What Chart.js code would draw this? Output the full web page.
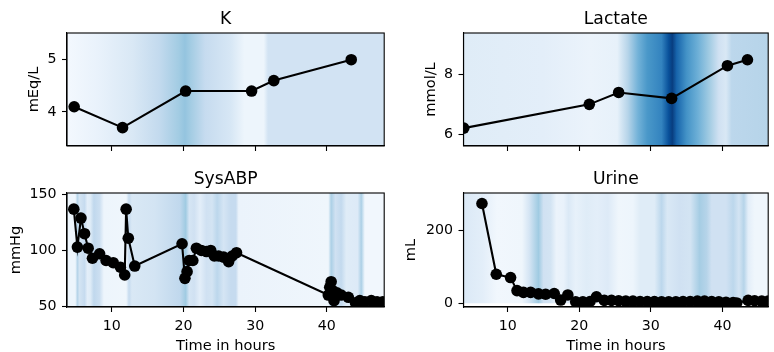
<!DOCTYPE html>
<html>
<head>
<meta charset="utf-8">
<script src="https://cdn.jsdelivr.net/npm/chart.js@4.4.1/dist/chart.umd.min.js"></script>
<style>
  html, body { margin: 0; padding: 0; background: #fff; }
  #fig { position: relative; width: 774px; height: 352px; }
  canvas { position: absolute; }
</style>
</head>
<body>
<div id="fig">
  <canvas id="cK" width="390" height="160" style="left:0;top:0"></canvas>
  <canvas id="cLac" width="384" height="160" style="left:390px;top:0"></canvas>
  <canvas id="cSys" width="390" height="192" style="left:0;top:160px"></canvas>
  <canvas id="cUrine" width="384" height="192" style="left:390px;top:160px"></canvas>
</div>
<script>
// measurements (time in hours)
const kTimes = [4.75, 11.5, 20.3, 29.5, 32.6, 43.4];
const kValues = [4.1, 3.7, 4.4, 4.4, 4.6, 5.0];

const lacTimes = [3.85, 21.4, 25.5, 32.9, 40.7, 43.5];
const lacValues = [6.2, 7.0, 7.4, 7.2, 8.3, 8.5];

const sysTimes = [4.7, 5.2, 5.7, 6.2, 6.7, 7.3, 8.3, 9.2, 10.2, 11.2, 11.8, 12.0, 12.3, 13.2,
  19.8, 20.2, 20.5, 20.8, 21.3, 21.8, 22.5, 23.2, 23.8, 24.3, 24.9, 25.6, 26.3, 26.8, 27.4,
  40.2, 40.4, 40.6, 40.8, 41.0, 41.4, 42.0, 43.0, 44.0, 44.6, 45.3, 46.2, 47.0, 47.8];
const sysValues = [137, 103, 129, 115, 102, 93, 97, 91, 89, 85, 78, 137, 111, 86,
  106, 75, 81, 91, 91, 102, 100, 99, 100, 95, 95, 94, 90, 95, 98,
  60, 67, 72, 64, 55, 62, 60, 58, 53, 55, 54, 55, 54, 54];

const urineTimes = [6.4, 8.4, 10.4, 11.3, 12.2, 13.2, 14.3, 15.3, 16.5, 17.4, 18.4, 19.5, 20.5,
  21.5, 22.4, 23.5, 24.5, 25.5, 26.5, 27.5, 28.5, 29.5, 30.5, 31.5, 32.5, 33.5, 34.5, 35.5,
  36.5, 37.5, 38.5, 39.5, 40.5, 41.5, 42.0, 43.6, 44.5, 45.5, 46.4];
const urineValues = [275, 80, 71, 35, 30, 30, 26, 25, 27, 9, 23, 4, 4,
  5, 18, 8, 8, 7, 6, 6, 5, 5, 5, 4, 4, 4, 5, 5,
  6, 6, 5, 4, 3, 2, 1, 8, 7, 6, 6];

// attention weights behind each panel (time, weight 0..1)
const kHeatTimes = [3.75, 8, 12.9, 16.6, 19.3, 20.2, 21.0, 23, 26.6, 28.5, 31.2, 31.8, 48];
const kHeatWeights = [0.02, 0.07, 0.15, 0.26, 0.36, 0.4, 0.36, 0.25, 0.16, 0.05, 0.05, 0.19, 0.19];

const lacHeatTimes = [3.82, 15, 21.5, 25.3, 26.8, 28.2, 29.5, 31.5, 32.5, 33.0, 33.6, 35.0, 36.5, 38.2, 39.5, 40.5, 41.3, 46.4];
const lacHeatWeights = [0.12, 0.1, 0.06, 0.08, 0.3, 0.48, 0.6, 0.68, 0.88, 0.95, 0.8, 0.62, 0.5, 0.36, 0.2, 0.15, 0.28, 0.3];

const sysHeatTimes = [3.75, 4.9, 5.2, 5.5, 6.2, 6.6, 7.0, 7.5, 8.3, 8.9, 12.0, 12.4, 12.8, 16, 19.5, 20.3, 20.8,
  21.5, 22.3, 23.2, 24.0, 24.7, 25.6, 26.6, 27.3, 27.7, 40.2, 40.6, 41.2, 42.0, 42.7, 44.3, 44.8, 45.3, 48];
const sysHeatWeights = [0.05, 0.05, 0.3, 0.18, 0.25, 0.1, 0.12, 0.27, 0.22, 0.05, 0.04, 0.25, 0.15, 0.18, 0.27, 0.37, 0.17,
  0.2, 0.1, 0.2, 0.18, 0.28, 0.17, 0.25, 0.25, 0.06, 0.04, 0.33, 0.2, 0.26, 0.12, 0.13, 0.33, 0.03, 0.03];

const urineHeatTimes = [3.82, 6.5, 8.5, 12, 13, 14.3, 15, 16, 16.8, 17.8, 18.5, 19.5, 21, 22.5, 24, 25.5, 27.5,
  28.5, 30.5, 31.5, 32.3, 34, 35.5, 36.8, 37.8, 38.5, 40.5, 41.5, 42.3, 43, 43.6, 44.5, 46.4];
const urineHeatWeights = [0.14, 0.1, 0.03, 0.04, 0.17, 0.37, 0.2, 0.18, 0.06, 0.07, 0.14, 0.08, 0.12, 0.1, 0.13, 0.04, 0.05,
  0.12, 0.12, 0.28, 0.15, 0.2, 0.18, 0.35, 0.3, 0.2, 0.2, 0.28, 0.18, 0.3, 0.1, 0.04, 0.04];

// ticks
const xTicks = [10, 20, 30, 40];
const kTicks = [4, 5];
const lacTicks = [6, 8];
const sysTicks = [50, 100, 150];
const urineTicks = [0, 200];

const FONT = "'DejaVu Sans', sans-serif";
const bluesMap = ['#f7fbff', '#deebf7', '#c6dbef', '#9ecae1', '#6baed6', '#4292c6', '#2171b5', '#08519c', '#08306b'];

function hexRgb(h) {
    return [1, 3, 5].map(i => parseInt(h.slice(i, i + 2), 16));
}

function blues(w) {
    const p = Math.max(0, Math.min(1, w)) * 8;
    const i = Math.min(7, Math.floor(p));
    const f = p - i;
    const a = hexRgb(bluesMap[i]), b = hexRgb(bluesMap[i + 1]);
    const c = a.map((v, k) => Math.round(v + (b[k] - v) * f));
    return `rgb(${c[0]},${c[1]},${c[2]})`;
}

function heatPlugin(times, weights, yLo, yHi) {
    return {
        id: 'heat',
        beforeDraw(chart) {
            const { ctx, chartArea: a, scales: { x, y } } = chart;
            const x0 = x.getPixelForValue(times[0]);
            const x1 = x.getPixelForValue(times[times.length - 1]);
            const g = ctx.createLinearGradient(x0, 0, x1, 0);
            times.forEach((t, i) => {
                g.addColorStop((x.getPixelForValue(t) - x0) / (x1 - x0), blues(weights[i]));
            });
            const yTop = y.getPixelForValue(yHi);
            const yBot = y.getPixelForValue(yLo);
            ctx.save();
            ctx.beginPath();
            ctx.rect(a.left, a.top, a.width, a.height);
            ctx.clip();
            ctx.fillStyle = g;
            ctx.fillRect(x0, yTop, x1 - x0, yBot - yTop);
            ctx.restore();
        }
    };
}

const framePlugin = {
    id: 'frame',
    afterDraw(chart) {
        const { ctx, chartArea: a } = chart;
        ctx.save();
        ctx.strokeStyle = '#000';
        ctx.lineWidth = 1.1;
        ctx.strokeRect(a.left, a.top, a.width, a.height);
        ctx.restore();
    }
};

function makePanel(id, p) {
    const tickGrid = { display: true, drawOnChartArea: false, drawTicks: true, tickLength: 5, tickWidth: 1.1, color: '#000' };
    new Chart(document.getElementById(id), {
        type: 'line',
        data: {
            datasets: [{
                data: p.times.map((t, i) => ({ x: t, y: p.values[i] })),
                borderColor: '#000',
                borderWidth: 2.1,
                pointRadius: 5.8,
                pointHoverRadius: 5.8,
                pointBackgroundColor: '#000',
                pointBorderWidth: 0,
                tension: 0
            }]
        },
        options: {
            responsive: false,
            animation: false,
            devicePixelRatio: 1,
            events: [],
            layout: { padding: { left: 0, right: p.padRight, top: 0, bottom: 0 } },
            plugins: {
                legend: { display: false },
                tooltip: { enabled: false },
                title: {
                    display: true, text: p.title, fullSize: false, color: '#000',
                    font: { family: FONT, size: 17.2, weight: 'normal', lineHeight: 1.2 },
                    padding: { top: 8.9, bottom: 3.46 }
                }
            },
            scales: {
                x: {
                    type: 'linear', min: p.xMin, max: p.xMax,
                    afterBuildTicks: s => { s.ticks = xTicks.map(v => ({ value: v })); },
                    afterFit: s => { s.height = p.xHeight; },
                    grid: tickGrid,
                    border: { display: true, color: '#000', width: 1.1 },
                    ticks: {
                        autoSkip: false, maxRotation: 0, padding: 6, color: '#000',
                        font: { family: FONT, size: 14.2 },
                        callback: v => p.showX ? String(v) : ''
                    },
                    title: {
                        display: p.showX, text: 'Time in hours', color: '#000',
                        font: { family: FONT, size: 14.6, lineHeight: 0.75 },
                        padding: { top: 0, bottom: 0 }
                    }
                },
                y: {
                    type: 'linear', min: p.yMin, max: p.yMax,
                    afterBuildTicks: s => { s.ticks = p.yTicks.map(v => ({ value: v })); },
                    afterFit: s => { s.width = p.yWidth; },
                    grid: tickGrid,
                    border: { display: true, color: '#000', width: 1.1 },
                    ticks: {
                        autoSkip: false, padding: 5.5, color: '#000',
                        font: { family: FONT, size: 14.2 },
                        callback: v => String(v)
                    },
                    title: {
                        display: true, text: p.yLabel, color: '#000',
                        font: { family: FONT, size: 14.6, lineHeight: 1.2 },
                        padding: { top: p.yTitlePad, bottom: 0 }
                    }
                }
            }
        },
        plugins: [heatPlugin(p.heatTimes, p.heatWeights, p.heatLo, p.heatHi), framePlugin]
    });
}

makePanel('cK', {
    title: 'K', yLabel: 'mEq/L', times: kTimes, values: kValues,
    xMin: 3.75, xMax: 48.0, yMin: 3.35, yMax: 5.51, yTicks: kTicks,
    heatTimes: kHeatTimes, heatWeights: kHeatWeights, heatLo: 3.35, heatHi: 5.51,
    showX: false, xHeight: 13, yWidth: 67, yTitlePad: 25.7, padRight: 2
});
makePanel('cLac', {
    title: 'Lactate', yLabel: 'mmol/L', times: lacTimes, values: lacValues,
    xMin: 3.82, xMax: 46.4, yMin: 5.6, yMax: 9.4, yTicks: lacTicks,
    heatTimes: lacHeatTimes, heatWeights: lacHeatWeights, heatLo: 5.6, heatHi: 9.4,
    showX: false, xHeight: 13, yWidth: 73.5, yTitlePad: 32, padRight: 1
});
makePanel('cSys', {
    title: 'SysABP', yLabel: 'mmHg', times: sysTimes, values: sysValues,
    xMin: 3.75, xMax: 48.0, yMin: 49.3, yMax: 151.5, yTicks: sysTicks,
    heatTimes: sysHeatTimes, heatWeights: sysHeatWeights, heatLo: 49.3, heatHi: 151.5,
    showX: true, xHeight: 45, yWidth: 67, yTitlePad: 7.7, padRight: 2
});
makePanel('cUrine', {
    title: 'Urine', yLabel: 'mL', times: urineTimes, values: urineValues,
    xMin: 3.82, xMax: 46.4, yMin: -10.2, yMax: 304, yTicks: urineTicks,
    heatTimes: urineHeatTimes, heatWeights: urineHeatWeights, heatLo: 0, heatHi: 304,
    showX: true, xHeight: 45, yWidth: 73.5, yTitlePad: 12.2, padRight: 1
});
</script>
</body>
</html>
